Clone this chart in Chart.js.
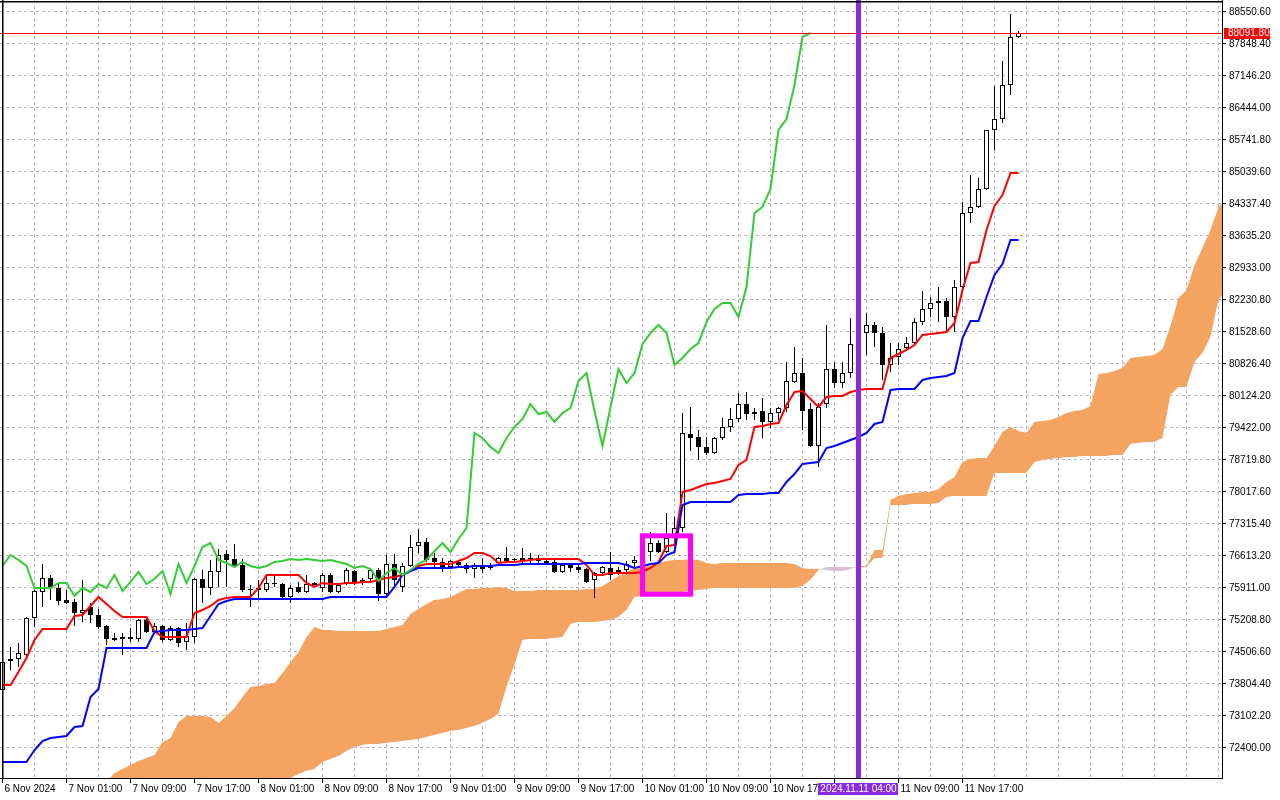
<!DOCTYPE html>
<html>
<head>
<meta charset="utf-8">
<title>BTCUSD H1 - Ichimoku</title>
<script src="https://cdn.jsdelivr.net/npm/chart.js@4.4.1/dist/chart.umd.min.js"></script>
<style>
  html, body { margin: 0; padding: 0; background: #ffffff; }
  #chart { display: block; }
</style>
</head>
<body>
<canvas id="chart" width="1280" height="800"></canvas>
<script>
// Hourly bars from 6 Nov 17:00 to 12 Nov 00:00 (bar index 0..127), the cloud runs 26 bars further
const xTickLabels = ['6 Nov 2024', '7 Nov 01:00', '7 Nov 09:00', '7 Nov 17:00', '8 Nov 01:00', '8 Nov 09:00',
  '8 Nov 17:00', '9 Nov 01:00', '9 Nov 09:00', '9 Nov 17:00', '10 Nov 01:00', '10 Nov 09:00',
  '10 Nov 17:00', '11 Nov 01:00', '11 Nov 09:00', '11 Nov 17:00'];
const labelEvery = 8;
const gridEvery = 4;

const yTickValues = [72400.00, 73102.20, 73804.40, 74506.60, 75208.80, 75911.00, 76613.20, 77315.40,
  78017.60, 78719.80, 79422.00, 80124.20, 80826.40, 81528.60, 82230.80, 82933.00, 83635.20, 84337.40,
  85039.60, 85741.80, 86444.00, 87146.20, 87848.40, 88550.60];

const openPrices = [
  73673, 74309, 74353, 74441, 75253, 75823, 76130, 75911, 75648, 75604,
  75362, 75494, 75319, 75077, 74814, 74836, 74792, 74792, 75209, 74945,
  75077, 74770, 75033, 74726, 74836, 76108, 75911, 76262, 76657, 76547,
  76416, 75889, 75867, 75867, 76021, 75999, 75714, 75933, 75823, 76021,
  75911, 76196, 75823, 76021, 76284, 76021, 76108, 76306, 75779, 76438,
  75933, 76394, 76833, 76920, 76569, 76482, 76372, 76482, 76416, 76328,
  76416, 76350, 76460, 76569, 76547, 76569, 76547, 76569, 76504, 76482,
  76262, 76416, 76372, 76328, 76087, 76240, 76350, 76262, 76306, 76460,
  76504, 76701, 76898, 76701, 77030, 77228, 79290, 79225, 79005, 78873,
  79203, 79444, 79619, 79948, 79729, 79795, 79553, 79751, 79861, 80431,
  80629, 79839, 79027, 79948, 80717, 80409, 80629, 81265, 81506, 81682,
  81506, 80804, 80980, 81177, 81287, 81748, 82033, 82209, 82209, 81858,
  82516, 84140, 84272, 84667, 85961, 86202, 86949, 88002];
const highPrices = [
  74331, 74616, 74704, 75275, 75867, 76438, 76196, 76021, 75867, 75670,
  76087, 75582, 75450, 75099, 74924, 74924, 75033, 75231, 75231, 75143,
  75099, 75077, 75055, 75143, 76130, 76306, 76525, 76767, 76745, 76876,
  76547, 75977, 76087, 76196, 76196, 76021, 75977, 76043, 76196, 76043,
  76240, 76240, 76021, 76350, 76306, 76130, 76350, 76350, 76635, 76657,
  76460, 77074, 77206, 77008, 76679, 76569, 76525, 76525, 76460, 76460,
  76569, 76460, 76591, 76811, 76569, 76789, 76679, 76635, 76569, 76525,
  76460, 76460, 76416, 76350, 76262, 76394, 76701, 76372, 76504, 76613,
  76789, 77140, 76964, 77557, 77469, 79751, 79883, 79378, 79225, 79225,
  79641, 79861, 80190, 80212, 79861, 80080, 79861, 79883, 80870, 81199,
  80958, 79970, 79970, 81682, 80870, 80870, 81836, 81682, 81945, 81748,
  81638, 81287, 81287, 81419, 81836, 82428, 82297, 82516, 82275, 82670,
  84381, 84974, 84908, 85961, 86927, 87475, 88507, 88134];
const lowPrices = [
  73629, 74112, 74177, 74397, 75055, 75494, 75648, 75538, 75560, 75077,
  75165, 75143, 75011, 74660, 74748, 74441, 74726, 74726, 74924, 74924,
  74726, 74748, 74616, 74550, 74704, 75582, 75757, 75933, 75933, 76372,
  75823, 75494, 75648, 75823, 75933, 75692, 75582, 75801, 75801, 75933,
  75823, 75801, 75801, 75977, 75977, 75977, 76065, 75626, 75692, 75933,
  75823, 76372, 76679, 76482, 76372, 76262, 76350, 76350, 76240, 76130,
  76240, 76306, 76416, 76482, 76482, 76460, 76460, 76460, 76416, 76240,
  76240, 76262, 76240, 76021, 75692, 76196, 76087, 76196, 76262, 76350,
  76460, 76504, 76679, 76679, 76964, 77140, 78917, 78720, 78829, 78851,
  79159, 79334, 79553, 79598, 79598, 79203, 79422, 79598, 79773, 80409,
  79378, 79005, 78566, 79861, 80299, 80299, 80519, 81134, 81024, 81199,
  80475, 80651, 80804, 81134, 81243, 81682, 81858, 81748, 81529, 81529,
  82385, 83921, 84250, 84645, 85522, 86115, 86729, 87980];
const closePrices = [
  74287, 74353, 74485, 75253, 75845, 76130, 75911, 75626, 75582, 75362,
  75428, 75319, 75055, 74792, 74770, 74792, 74836, 75209, 74945, 75077,
  74770, 75033, 74704, 74858, 76108, 75911, 76284, 76635, 76525, 76394,
  75867, 75867, 75911, 76021, 75999, 75714, 75911, 75823, 75999, 75977,
  76196, 75823, 75977, 76306, 76021, 76087, 76306, 75779, 76438, 76087,
  76394, 76811, 76920, 76525, 76482, 76350, 76504, 76416, 76328, 76416,
  76328, 76416, 76569, 76504, 76525, 76504, 76569, 76504, 76460, 76262,
  76416, 76350, 76306, 76043, 76240, 76372, 76196, 76306, 76438, 76525,
  76723, 76898, 76701, 77008, 77228, 79312, 79203, 79005, 78873, 79203,
  79444, 79619, 79948, 79729, 79773, 79553, 79751, 79861, 80453, 80629,
  79795, 79027, 79883, 80717, 80409, 80629, 81265, 81506, 81682, 81506,
  80804, 80958, 81155, 81287, 81748, 82033, 82165, 82165, 81858, 82516,
  84140, 84272, 84667, 85961, 86202, 86949, 88002, 88091.80];

const tenkanSen = [
  73782, 73782, 74068, 74375, 74770, 75011, 75011, 75011, 75011, 75297,
  75319, 75516, 75713, 75560, 75406, 75275, 75275, 75275, 75275, 74967,
  74836, 74836, 74836, 74836, 75362, 75428, 75516, 75648, 75691, 75713,
  75713, 75713, 75911, 76196, 76196, 76196, 76196, 76196, 76021, 75933,
  76021, 75999, 75999, 76021, 76021, 76043, 76043, 76087, 76130, 76152,
  76196, 76284, 76394, 76438, 76438, 76438, 76438, 76503, 76569, 76679,
  76679, 76613, 76460, 76482, 76482, 76503, 76525, 76547, 76547, 76547,
  76547, 76547, 76547, 76416, 76196, 76196, 76240, 76240, 76240, 76240,
  76262, 76350, 76482, 76833, 76855, 78018, 78061, 78127, 78193, 78215,
  78259, 78303, 78610, 78720, 79444, 79466, 79510, 79532, 79927, 80212,
  80234, 80058, 79883, 80102, 80124, 80124, 80212, 80256, 80278, 80278,
  80278, 80958, 81046, 81134, 81243, 81463, 81485, 81507, 81529, 81726,
  82450, 83043, 83065, 83767, 84294, 84535, 85018, 85018];
const kijunSen = [
  72093, 72093, 72093, 72093, 72356, 72553, 72619, 72641, 72663, 72861,
  72883, 73519, 73695, 74594, 74594, 74594, 74594, 74594, 74594, 74945,
  74967, 74989, 74989, 74989, 75011, 75033, 75297, 75560, 75626, 75670,
  75670, 75670, 75670, 75670, 75670, 75670, 75670, 75670, 75670, 75670,
  75670, 75713, 75713, 75713, 75713, 75713, 75713, 75713, 75713, 75933,
  76196, 76284, 76350, 76350, 76350, 76350, 76350, 76372, 76372, 76394,
  76394, 76394, 76416, 76416, 76416, 76438, 76438, 76438, 76438, 76438,
  76438, 76438, 76438, 76460, 76460, 76460, 76460, 76460, 76416, 76350,
  76394, 76438, 76460, 76635, 76701, 77732, 77798, 77798, 77798, 77798,
  77798, 77798, 77952, 77974, 77974, 77974, 77996, 77996, 78237, 78413,
  78632, 78654, 78676, 78983, 79027, 79093, 79159, 79225, 79312, 79510,
  79554, 80256, 80278, 80278, 80278, 80475, 80519, 80541, 80563, 80629,
  81397, 81770, 81770, 82297, 82779, 83021, 83547, 83547];
// lagging span, drawn from bar 0 to bar 101
const chikouSpan = [
  76394, 76635, 76525, 76394, 75911, 75911, 75911, 76021, 76021, 75735,
  75911, 75823, 75999, 75911, 76196, 75845, 76043, 76262, 75999, 76108,
  76284, 75779, 76438, 76021, 76394, 76811, 76898, 76525, 76460, 76372,
  76482, 76394, 76350, 76394, 76482, 76503, 76547, 76525, 76547, 76525,
  76503, 76525, 76482, 76438, 76350, 76394, 76328, 76065, 76240, 76350,
  76196, 76306, 76438, 76525, 76723, 76898, 76701, 76986, 77228, 79312,
  79203, 79005, 78873, 79203, 79444, 79619, 79948, 79729, 79773, 79554,
  79751, 79861, 80453, 80629, 79795, 79027, 79883, 80717, 80409, 80629,
  81265, 81507, 81682, 81507, 80804, 80958, 81156, 81287, 81748, 82033,
  82165, 82165, 81858, 82516, 84140, 84272, 84667, 85961, 86202, 86949,
  88002, 88091.80];
// cloud spans, first value sits on bar 13
const cloudStartBar = 13;
const senkouSpanA = [
  71654, 71851, 71939, 72027, 72115, 72180, 72246, 72532, 72619, 72970,
  73102, 73102, 73102, 73080, 72949, 73102, 73278, 73519, 73739, 73760,
  73804, 73826, 74046, 74287, 74507, 74836, 75055, 74989, 74989, 74967,
  74967, 74967, 74967, 74967, 74967, 75011, 75055, 75099, 75340, 75450,
  75560, 75648, 75670, 75713, 75801, 75889, 75889, 75911, 75911, 75933,
  75911, 75845, 75845, 75845, 75867, 75867, 75867, 75867, 75867, 75867,
  75889, 75889, 75955, 76065, 76174, 76262, 76350, 76372, 76416, 76460,
  76503, 76525, 76525, 76547, 76525, 76460, 76438, 76460, 76460, 76460,
  76460, 76460, 76460, 76460, 76460, 76460, 76438, 76350, 76328, 76328,
  76306, 76284, 76284, 76328, 76394, 76394, 76745, 76745, 77842, 77930,
  77974, 77996, 78018, 78018, 78083, 78237, 78347, 78676, 78742, 78764,
  78764, 79027, 79334, 79444, 79356, 79312, 79554, 79576, 79598, 79663,
  79751, 79795, 79817, 79905, 80607, 80629, 80673, 80739, 80958, 80980,
  81002, 81024, 81156, 81660, 82275, 82450, 82999, 83372, 83767, 84272,
  84425];
const senkouSpanB = [
  71478, 71478, 71478, 71478, 71478, 71478, 71478, 71478, 71478, 71478,
  71478, 71478, 71478, 71478, 71478, 71478, 71478, 71478, 71478, 71478,
  71478, 71478, 71478, 71742, 71829, 71895, 71939, 72093, 72159, 72224,
  72334, 72422, 72466, 72488, 72488, 72510, 72532, 72553, 72575, 72597,
  72641, 72685, 72729, 72773, 72795, 72839, 72883, 72949, 73036, 73146,
  73739, 74221, 74770, 74792, 74792, 74792, 74814, 74836, 75121, 75165,
  75165, 75165, 75187, 75209, 75275, 75428, 75713, 75735, 75757, 75779,
  75801, 75823, 75823, 75845, 75867, 75889, 75911, 75911, 75911, 75911,
  75911, 75911, 75911, 75911, 75911, 75911, 75911, 75955, 76087, 76306,
  76372, 76372, 76372, 76372, 76350, 76372, 76569, 76569, 77732, 77732,
  77732, 77754, 77754, 77754, 77776, 77908, 77930, 77930, 77930, 77930,
  77930, 78435, 78435, 78435, 78435, 78435, 78676, 78720, 78742, 78764,
  78786, 78786, 78808, 78808, 78808, 78808, 78829, 78829, 79071, 79093,
  79115, 79115, 79203, 80146, 80322, 80322, 80870, 81068, 81419, 82231,
  82450];

const bidPrice = 88091.80;
const markerBar = 107;
const markerLabel = '2024.11.11 04:00';
const boxBars = [80, 86];
const boxPrices = [75775, 77056];

const axisFont = { family: 'Liberation Sans, Arial, sans-serif', size: 10 };
const gridColor = '#bdb3c3';

function toPoints(values, startBar) {
    return values.map((v, k) => ({ x: startBar + k, y: v }));
}

// Candles as two floating bar sets: thin wicks plus bodies
const wickData = closePrices.map((c, i) => ({ x: i, y: [lowPrices[i], highPrices[i]] }));
const bodyData = closePrices.map((c, i) => ({ x: i, y: [openPrices[i], c] }));
const bodyColors = closePrices.map((c, i) => (c >= openPrices[i] ? '#ffffff' : '#000000'));

// Price line, highlight box, vertical time marker and their axis labels
const terminalOverlay = {
    id: 'terminalOverlay',
    afterDatasetsDraw(chart) {
        const { ctx, chartArea: area, scales: { x, y } } = chart;
        ctx.save();
        ctx.setLineDash([]);
        ctx.globalAlpha = 1;

        // bid line, drawn as a 1px filled strip so it stays pure red
        const py = Math.round(y.getPixelForValue(bidPrice));
        ctx.fillStyle = '#ff0000';
        ctx.fillRect(area.left, py, area.right - area.left, 1);

        const bx1 = x.getPixelForValue(boxBars[0]);
        const bx2 = x.getPixelForValue(boxBars[1]);
        const by1 = y.getPixelForValue(boxPrices[1]);
        const by2 = y.getPixelForValue(boxPrices[0]);
        ctx.strokeStyle = '#ff00ff';
        ctx.lineWidth = 5;
        ctx.strokeRect(bx1, by1, bx2 - bx1, by2 - by1);

        const mx = x.getPixelForValue(markerBar);
        ctx.fillStyle = '#8a2be2';
        ctx.fillRect(mx - 2.5, area.top, 5, area.bottom - area.top);
        ctx.restore();
    },
    afterDraw(chart) {
        const { ctx, chartArea: area, scales: { x, y } } = chart;
        ctx.save();

        // window frame on the left and top
        ctx.fillStyle = '#000000';
        ctx.fillRect(area.left + 2, area.top, 1.5, area.bottom - area.top);
        ctx.fillRect(area.left, area.top + 1, area.right - area.left, 1.5);

        ctx.font = axisFont.size + 'px ' + axisFont.family;
        ctx.textBaseline = 'middle';

        // current price tag on the price scale
        const py = Math.round(y.getPixelForValue(bidPrice));
        ctx.fillStyle = '#ff0000';
        ctx.fillRect(area.right + 2, py - 5, 46, 11);
        ctx.fillStyle = '#ffffff';
        ctx.textAlign = 'left';
        ctx.fillText(bidPrice.toFixed(2), area.right + 6, py + 0.5);

        // time tag under the vertical marker
        const mx = x.getPixelForValue(markerBar);
        const w = ctx.measureText(markerLabel).width + 4;
        ctx.fillStyle = '#8a2be2';
        ctx.fillRect(Math.round(mx - w / 2), area.bottom + 5, Math.round(w), 12);
        ctx.fillStyle = '#ffffff';
        ctx.textAlign = 'center';
        ctx.fillText(markerLabel, mx, area.bottom + 11.5);
        ctx.restore();
    }
};

const ctx = document.getElementById('chart').getContext('2d');
const chart = new Chart(ctx, {
    type: 'bar',
    data: {
        datasets: [
            {
                type: 'line',
                label: 'Senkou Span A',
                data: toPoints(senkouSpanA, cloudStartBar),
                borderColor: 'rgba(0,0,0,0)',
                borderWidth: 0,
                pointRadius: 0,
                fill: { target: '+1', above: '#f4a460', below: '#d8bfd8' },
                order: 10
            },
            {
                type: 'line',
                label: 'Senkou Span B',
                data: toPoints(senkouSpanB, cloudStartBar),
                borderColor: 'rgba(0,0,0,0)',
                borderWidth: 0,
                pointRadius: 0,
                fill: false,
                order: 11
            },
            {
                type: 'bar',
                label: 'Wicks',
                data: wickData,
                backgroundColor: '#000000',
                borderWidth: 0,
                barThickness: 1,
                inflateAmount: 0,
                grouped: false,
                order: 6
            },
            {
                type: 'bar',
                label: 'Bodies',
                data: bodyData,
                backgroundColor: bodyColors,
                borderColor: '#000000',
                borderWidth: 1,
                borderSkipped: false,
                barThickness: 5,
                inflateAmount: 0,
                grouped: false,
                order: 5
            },
            {
                type: 'line',
                label: 'Tenkan-sen',
                data: toPoints(tenkanSen, 0),
                borderColor: '#ff0000',
                borderWidth: 2,
                pointRadius: 0,
                tension: 0,
                order: 3
            },
            {
                type: 'line',
                label: 'Kijun-sen',
                data: toPoints(kijunSen, 0),
                borderColor: '#0000ff',
                borderWidth: 2,
                pointRadius: 0,
                tension: 0,
                order: 2
            },
            {
                type: 'line',
                label: 'Chikou Span',
                data: toPoints(chikouSpan, 0),
                borderColor: '#32cd32',
                borderWidth: 2,
                pointRadius: 0,
                tension: 0,
                order: 1
            }
        ]
    },
    options: {
        responsive: false,
        maintainAspectRatio: false,
        animation: false,
        events: [],
        layout: { padding: 0 },
        plugins: {
            legend: { display: false },
            tooltip: { enabled: false },
            title: { display: false }
        },
        scales: {
            x: {
                type: 'linear',
                min: -0.3125,
                max: 152.4375,
                offset: false,
                afterBuildTicks(axis) {
                    const ticks = [];
                    for (let v = 0; v <= axis.max; v += gridEvery) ticks.push({ value: v });
                    axis.ticks = ticks;
                },
                afterFit(scale) {
                    scale.height = 22;
                    scale.paddingLeft = 0;
                    scale.paddingRight = 0;
                },
                grid: {
                    offset: false,
                    color: gridColor,
                    lineWidth: 1,
                    drawTicks: true,
                    tickLength: 5,
                    tickWidth: 1,
                    tickColor: function(c) {
                        const v = c.tick ? c.tick.value : -1;
                        return (v % labelEvery === 0 && v / labelEvery < xTickLabels.length) ? '#000000' : 'rgba(0,0,0,0)';
                    }
                },
                border: { display: true, color: '#000000', width: 1, dash: [3, 3] },
                ticks: {
                    autoSkip: false,
                    maxRotation: 0,
                    minRotation: 0,
                    align: 'start',
                    labelOffset: 2,
                    padding: 0,
                    color: '#000000',
                    font: axisFont,
                    callback: function(value) {
                        if (value % labelEvery !== 0) return '';
                        const k = value / labelEvery;
                        return k < xTickLabels.length ? xTickLabels[k] : '';
                    }
                }
            },
            y: {
                type: 'linear',
                position: 'right',
                min: 71741.5,
                max: 88813.9,
                beginAtZero: false,
                afterBuildTicks(axis) {
                    axis.ticks = yTickValues.map(v => ({ value: v }));
                },
                afterFit(scale) {
                    scale.width = 58;
                    scale.paddingTop = 0;
                    scale.paddingBottom = 0;
                },
                grid: {
                    color: gridColor,
                    lineWidth: 1,
                    drawTicks: true,
                    tickLength: 4,
                    tickWidth: 1,
                    tickColor: '#000000'
                },
                border: { display: true, color: '#000000', width: 1, dash: [3, 3] },
                ticks: {
                    autoSkip: false,
                    padding: 3,
                    color: '#000000',
                    font: axisFont,
                    callback: function(value) {
                        return Number(value).toFixed(2);
                    }
                }
            }
        }
    },
    plugins: [terminalOverlay]
});
</script>
</body>
</html>
